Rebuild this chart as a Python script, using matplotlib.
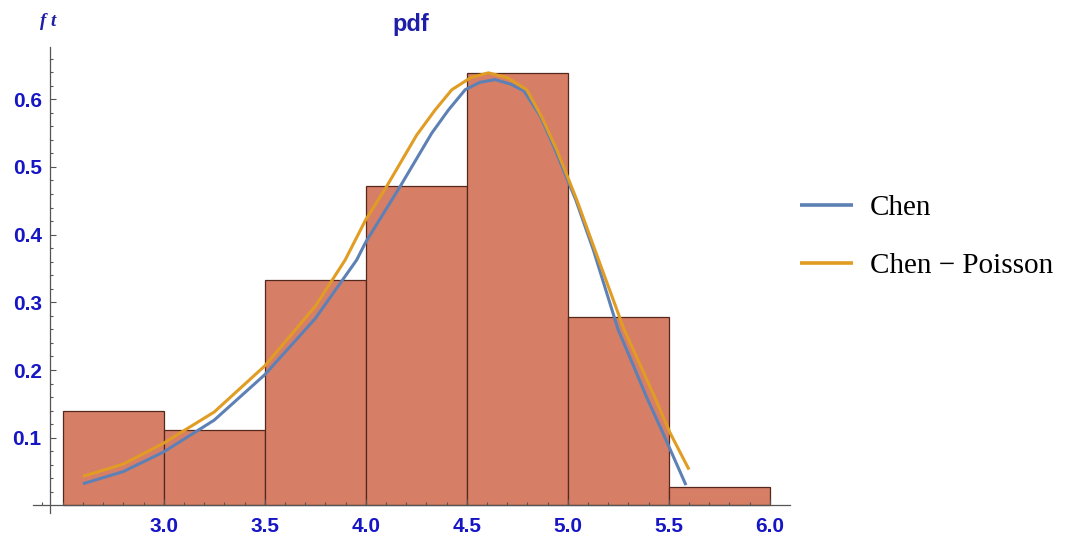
import numpy as np
import matplotlib
matplotlib.use("Agg")
import matplotlib.pyplot as plt
from matplotlib.ticker import FixedLocator, FixedFormatter

# histogram of the sample (n = 72), bins of width 0.5
bin_edges = [2.5, 3.0, 3.5, 4.0, 4.5, 5.0, 5.5, 6.0]
counts = [5, 4, 12, 17, 23, 10, 1]

# fitted pdf curves
chen_x = [2.6, 2.8, 3.0, 3.25, 3.5, 3.75, 3.955, 4.0, 4.17, 4.327, 4.409, 4.492,
          4.565, 4.64, 4.72, 4.784, 4.866, 4.938, 5.04, 5.127, 5.25, 5.32, 5.39,
          5.465, 5.585]
chen_y = [0.032, 0.050, 0.079, 0.126, 0.193, 0.276, 0.3625, 0.389, 0.471, 0.550, 0.584, 0.614,
          0.625, 0.629, 0.622, 0.612, 0.574, 0.525, 0.451, 0.377, 0.259, 0.210, 0.160,
          0.111, 0.030]

pois_x = [2.6, 2.8, 3.0, 3.25, 3.5, 3.75, 3.898, 4.0, 4.103, 4.252, 4.343, 4.426,
          4.52, 4.607, 4.70, 4.797, 4.871, 4.946, 5.045, 5.135, 5.28, 5.355, 5.43,
          5.505, 5.6]
pois_y = [0.043, 0.061, 0.092, 0.138, 0.206, 0.294, 0.3625, 0.422, 0.471, 0.547, 0.584, 0.614,
          0.632, 0.639, 0.632, 0.614, 0.574, 0.525, 0.451, 0.377, 0.259, 0.210, 0.160,
          0.108, 0.053]

x_major = [3.0, 3.5, 4.0, 4.5, 5.0, 5.5, 6.0]
x_labels = ["3.0", "3.5", "4.0", "4.5", "5.0", "5.5", "6.0"]
y_major = [0.1, 0.2, 0.3, 0.4, 0.5, 0.6]
y_labels = ["0.1", "0.2", "0.3", "0.4", "0.5", "0.6"]

tick_blue = "#1616C4"
bar_col = "#D77E67"
edge_col = "#55281E"
blue = "#5E81B5"
orange = "#E19C24"

W, H = 1068, 542
fig = plt.figure(figsize=(W / 100, H / 100), dpi=100)
ax = fig.add_axes([33 / W, 1 - 513 / H, (790 - 33) / W, (513 - 46.7) / H])

n = sum(counts)
widths = np.diff(bin_edges)
density = np.array(counts) / (n * widths)
ax.bar(bin_edges[:-1], density, width=widths, align="edge", color=bar_col,
       edgecolor=edge_col, linewidth=0.9, zorder=1)

ax.plot(chen_x, chen_y, color=blue, lw=2.2, solid_capstyle="butt",
        solid_joinstyle="round", zorder=3, label="Chen")
ax.plot(pois_x, pois_y, color=orange, lw=2.2, solid_capstyle="butt",
        solid_joinstyle="round", zorder=4, label="Chen \u2212 Poisson")

ax.set_xlim(2.353, 6.1)
ax.set_ylim(-0.0112, 0.6776)

for s in ["top", "right"]:
    ax.spines[s].set_visible(False)
ax.spines["left"].set_position(("data", 2.437))
ax.spines["bottom"].set_position(("data", 0.0))
for s in ["left", "bottom"]:
    ax.spines[s].set_color("#555555")
    ax.spines[s].set_linewidth(0.9)
    ax.spines[s].set_zorder(5)

ax.xaxis.set_major_locator(FixedLocator(x_major))
ax.xaxis.set_major_formatter(FixedFormatter(x_labels))
ax.xaxis.set_minor_locator(FixedLocator(np.round(np.arange(2.4, 6.05, 0.1), 2)))
ax.yaxis.set_major_locator(FixedLocator(y_major))
ax.yaxis.set_major_formatter(FixedFormatter(y_labels))
ax.yaxis.set_minor_locator(FixedLocator(np.round(np.arange(0.02, 0.67, 0.02), 2)))

ax.tick_params(which="both", direction="in", color="#555555", width=0.8)
ax.tick_params(which="major", length=4.5)
ax.tick_params(which="minor", length=2.5)
ax.tick_params(axis="x", which="major", pad=8)
ax.tick_params(axis="y", which="major", pad=6)
for lab in ax.get_xticklabels() + ax.get_yticklabels():
    lab.set_fontfamily("Liberation Sans")
    lab.set_fontweight("bold")
    lab.set_fontsize(15)
    lab.set_color(tick_blue)

fig.text(411 / W, 1 - 25 / H, "pdf", ha="center", va="center", fontsize=17,
         fontweight="bold", family="Liberation Sans", color="#1E1EA8")
fig.text(48 / W, 1 - 21 / H, "f t", ha="center", va="center", fontsize=13.5,
         fontweight="bold", style="italic", family="Liberation Serif", color="#1E1EA8")

leg = ax.legend(loc="center left", bbox_to_anchor=(800 / W, 1 - 237 / H),
                bbox_transform=fig.transFigure, frameon=False, borderpad=0,
                borderaxespad=0, handlelength=1.8, handletextpad=0.6,
                labelspacing=1.09, prop={"family": "Liberation Serif", "size": 21})
for line in leg.get_lines():
    line.set_linewidth(2.6)

fig.savefig("out.png", dpi=100)
